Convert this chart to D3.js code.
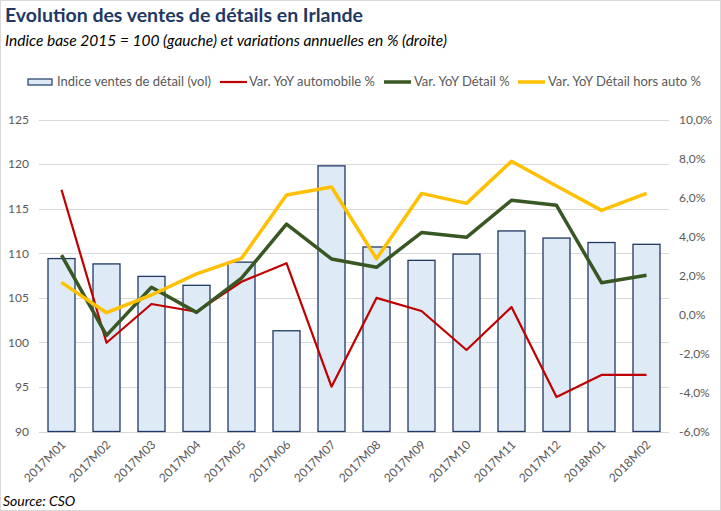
<!DOCTYPE html>
<html>
<head>
<meta charset="utf-8">
<script src="https://cdn.jsdelivr.net/npm/d3@7"></script>
<style>
  html, body { margin: 0; padding: 0; background: #fff; }
  svg { display: block; font-family: Lato, "Noto Sans", sans-serif; }
</style>
</head>
<body>
<svg id="chart" width="721" height="511"></svg>
<script>
const categories = ["2017M01","2017M02","2017M03","2017M04","2017M05","2017M06","2017M07","2017M08","2017M09","2017M10","2017M11","2017M12","2018M01","2018M02"];
const indexVol = [109.4,108.8,107.4,106.4,109.0,101.3,119.8,110.7,109.2,109.9,112.5,111.7,111.2,111.0];
const yoyAuto = [6.4,-1.45,0.54,0.14,1.68,2.63,-3.7,0.85,0.18,-1.82,0.38,-4.23,-3.1,-3.1];
const yoyTotal = [3.04,-1.07,1.4,0.11,1.86,4.63,2.85,2.42,4.2,3.96,5.86,5.6,1.63,2.01];
const yoyExAuto = [1.65,0.09,1.0,2.08,2.88,6.13,6.54,2.86,6.21,5.7,7.86,6.59,5.34,6.21];
const leftTicks = [90,95,100,105,110,115,120,125];
const rightTicks = [-6,-4,-2,0,2,4,6,8,10];
const seriesNames = ["Indice ventes de détail (vol)","Var. YoY automobile %","Var. YoY Détail %","Var. YoY Détail hors auto %"];

const svg = d3.select("#chart");
const W = 721, H = 511;
const plot = {left: 39, right: 669, top: 119.5, bottom: 431.5};

svg.append("rect").attr("x",0.5).attr("y",0.5).attr("width",W-1).attr("height",H-1)
  .attr("fill","#fff").attr("stroke","#d9d9d9");

const x = d3.scaleBand().domain(categories).range([plot.left, plot.right]).paddingInner(0.4).paddingOuter(0.2);
const yL = d3.scaleLinear().domain([90,125]).range([plot.bottom, plot.top]);
const yR = d3.scaleLinear().domain([-6,10]).range([plot.bottom, plot.top]);

// gridlines
svg.append("g").selectAll("line").data(leftTicks).join("line")
  .attr("x1", plot.left).attr("x2", plot.right)
  .attr("y1", d => Math.round(yL(d))+0.5).attr("y2", d => Math.round(yL(d))+0.5)
  .attr("stroke", "#d9d9d9").attr("stroke-width", 1);

// left axis
const axL = svg.append("g").attr("transform", `translate(${plot.left},0)`)
  .call(d3.axisLeft(yL).tickValues(leftTicks).tickSize(0).tickPadding(10).tickFormat(d3.format("d")));
axL.select(".domain").remove();
axL.selectAll("text").attr("fill","#595959").style("font-size","12px").style("font-family","Lato, sans-serif");

// right axis
const fmtPct = d => d.toFixed(1).replace(".", ",") + "%";
const axR = svg.append("g").attr("transform", `translate(${plot.right},0)`)
  .call(d3.axisRight(yR).tickValues(rightTicks).tickSize(0).tickPadding(10).tickFormat(fmtPct));
axR.select(".domain").remove();
axR.selectAll("text").attr("fill","#595959").style("font-size","12px").style("font-family","Lato, sans-serif");

// bars
svg.append("g").selectAll("rect").data(indexVol).join("rect")
  .attr("x", (d,i) => x(categories[i]))
  .attr("width", x.bandwidth())
  .attr("y", d => yL(d))
  .attr("height", d => yL(90) - yL(d))
  .attr("fill", "#deeaf6").attr("stroke", "#1f3864").attr("stroke-width", 1.3);

// lines
const cx = i => x(categories[i]) + x.bandwidth()/2;
const lineGen = d3.line().x((d,i) => cx(i)).y(d => yR(d));
const lines = [
  {data: yoyAuto, color: "#c00000", w: 2.2},
  {data: yoyTotal, color: "#385723", w: 3.5},
  {data: yoyExAuto, color: "#ffc000", w: 3.5}
];
lines.forEach(l => {
  svg.append("path").datum(l.data).attr("d", lineGen)
    .attr("fill","none").attr("stroke", l.color).attr("stroke-width", l.w)
    .attr("stroke-linejoin","round");
});

// x labels
const xa = svg.append("g").attr("transform", `translate(0,${plot.bottom})`)
  .call(d3.axisBottom(x).tickSize(0).tickPadding(0));
xa.select(".domain").remove();
xa.selectAll("text")
  .attr("fill","#595959").style("font-size","12px").style("font-family","Lato, sans-serif")
  .attr("text-anchor","end")
  .attr("dy", null).attr("y", 0)
  .attr("transform", "translate(5,14) rotate(-45)");

// title
svg.append("text").attr("x", 5).attr("y", 22).text("Evolution des ventes de détails en Irlande")
  .attr("fill","#1f3864").style("font-weight","bold").style("font-size","19.5px");
svg.append("text").attr("x", 5).attr("y", 46).text("Indice base 2015 = 100 (gauche) et variations annuelles en % (droite)")
  .attr("fill","#000").style("font-style","italic").style("font-size","15.5px");
svg.append("text").attr("x", 3).attr("y", 506).text("Source: CSO")
  .attr("fill","#000").style("font-style","italic").style("font-size","14px");

// legend
const lg = svg.append("g").style("font-size","13px");
const legendItems = [
  {type:"rect", x:28, tx:57},
  {type:"line", color:"#c00000", w:2.2, x:220, tx:249},
  {type:"line", color:"#385723", w:3.5, x:384, tx:414},
  {type:"line", color:"#ffc000", w:3.5, x:518, tx:548}
];
legendItems.forEach((it, i) => {
  if (it.type === "rect") {
    lg.append("rect").attr("x", it.x).attr("y", 79).attr("width", 24).attr("height", 6)
      .attr("fill","#deeaf6").attr("stroke","#1f3864").attr("stroke-width",1.2);
  } else {
    lg.append("line").attr("x1", it.x).attr("x2", it.x+27).attr("y1", 82).attr("y2", 82)
      .attr("stroke", it.color).attr("stroke-width", it.w);
  }
  lg.append("text").attr("x", it.tx).attr("y", 86).text(seriesNames[i]).attr("fill","#595959");
});
</script>
</body>
</html>
